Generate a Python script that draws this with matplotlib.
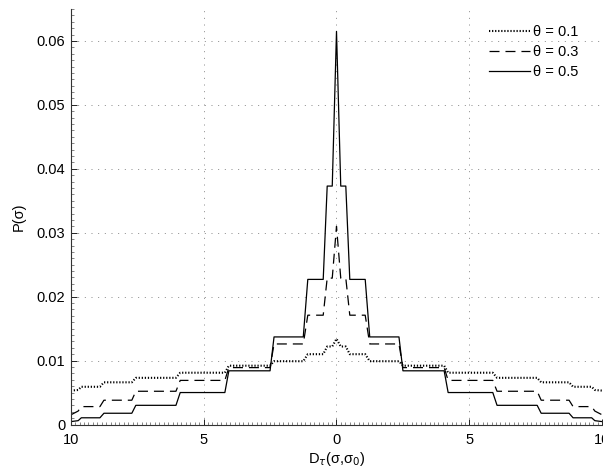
import matplotlib
matplotlib.use("Agg")
import matplotlib.pyplot as plt
from matplotlib.ticker import MultipleLocator, FixedLocator

plt.rcParams['font.family'] = ['Liberation Sans', 'DejaVu Sans']
plt.rcParams['lines.scale_dashes'] = False

# ---- data ----
x_vals = [-10.0, -9.72, -9.6, -8.9, -8.75, -7.7, -7.55, -6.04, -5.88, -4.2, -4.05,
          -2.5, -2.35, -1.25, -1.08, -0.5, -0.35, -0.16, 0.0, 0.16, 0.35, 0.5, 1.08,
          1.25, 2.35, 2.5, 4.05, 4.2, 5.88, 6.04, 7.55, 7.7, 8.75, 8.9, 9.6, 9.72, 10.0]

p_theta01 = [0.0053, 0.0054, 0.0059, 0.0059, 0.0066, 0.0066, 0.0073, 0.0073, 0.0081, 0.0081,
             0.0092, 0.0092, 0.0099, 0.0099, 0.0110, 0.0110, 0.0122, 0.0122, 0.0134,
             0.0122, 0.0122, 0.0110, 0.0110, 0.0099, 0.0099, 0.0092, 0.0092, 0.0081, 0.0081,
             0.0073, 0.0073, 0.0066, 0.0066, 0.0059, 0.0059, 0.0054, 0.0053]

p_theta03 = [0.0015, 0.0021, 0.0028, 0.0028, 0.0038, 0.0038, 0.0052, 0.0052, 0.0069, 0.0069,
             0.0089, 0.0089, 0.0126, 0.0126, 0.0171, 0.0171, 0.0229, 0.0229, 0.0310,
             0.0229, 0.0229, 0.0171, 0.0171, 0.0126, 0.0126, 0.0089, 0.0089, 0.0069, 0.0069,
             0.0052, 0.0052, 0.0038, 0.0038, 0.0028, 0.0028, 0.0021, 0.0015]

p_theta05 = [0.00045, 0.0006, 0.00105, 0.00105, 0.00176, 0.00176, 0.0030, 0.0030, 0.0050, 0.0050,
             0.0084, 0.0084, 0.0137, 0.0137, 0.0227, 0.0227, 0.0373, 0.0373, 0.0615,
             0.0373, 0.0373, 0.0227, 0.0227, 0.0137, 0.0137, 0.0084, 0.0084, 0.0050, 0.0050,
             0.0030, 0.0030, 0.00176, 0.00176, 0.00105, 0.00105, 0.0006, 0.00045]

labels = ['\u03b8 = 0.1', '\u03b8 = 0.3', '\u03b8 = 0.5']
x_ticks = [-10, -5, 0, 5, 10]
x_ticklabels = ['10', '5', '0', '5', '10']
y_ticks = [0, 0.01, 0.02, 0.03, 0.04, 0.05, 0.06]
y_ticklabels = ['0', '0.01', '0.02', '0.03', '0.04', '0.05', '0.06']

# ---- figure ----
W, H = 603, 468
fig = plt.figure(figsize=(W / 100, H / 100), dpi=100)
left, right, top, bottom = 70.7, 602.3, 9.0, 424.5
ax = fig.add_axes([left / W, 1 - bottom / H, (right - left) / W, (bottom - top) / H])

ax.plot(x_vals, p_theta01, color='black', lw=1.5, linestyle=(0, (0.9, 1.3)), label=labels[0])
ax.plot(x_vals, p_theta03, color='black', lw=0.9, linestyle=(0, (7.2, 4.3)), label=labels[1])
ax.plot(x_vals, p_theta05, color='black', lw=0.9, linestyle='-', label=labels[2])

ax.set_xlim(-10, 10)
ax.set_ylim(0, 0.065)
ax.xaxis.set_major_locator(FixedLocator(x_ticks))
ax.set_xticklabels(x_ticklabels)
ax.yaxis.set_major_locator(FixedLocator(y_ticks))
ax.set_yticklabels(y_ticklabels)
ax.xaxis.set_minor_locator(MultipleLocator(1 / 6))
ax.yaxis.set_minor_locator(MultipleLocator(0.001))

ax.tick_params(which='major', direction='in', length=4, width=0.6, labelsize=10.5, colors='black')
ax.tick_params(axis='x', which='major', pad=6)
ax.tick_params(axis='y', which='major', pad=4)
ax.tick_params(which='minor', direction='in', length=2, width=0.5, color='#555555')

ax.grid(True, which='major', color='#888888', linestyle=(0, (0.7, 4.1)), linewidth=0.7)
ax.set_axisbelow(True)

for s in ['top', 'right']:
    ax.spines[s].set_visible(False)
for s in ['left', 'bottom']:
    ax.spines[s].set_linewidth(0.8)
    ax.spines[s].set_color('#333333')

ax.set_ylabel('P(\u03c3)', fontsize=10.5, labelpad=8)
ax.set_xlabel('D$_\\tau$(\u03c3,\u03c3$_0$)', fontsize=10.5, labelpad=2.5)

leg = ax.legend(loc='upper left', bbox_to_anchor=(489 / W, 1 - 25 / H),
                bbox_transform=fig.transFigure, frameon=False, fontsize=10.5,
                handlelength=2.8, handletextpad=0.2, borderpad=0, borderaxespad=0,
                labelspacing=0.42)

fig.savefig('out.png', dpi=100)
